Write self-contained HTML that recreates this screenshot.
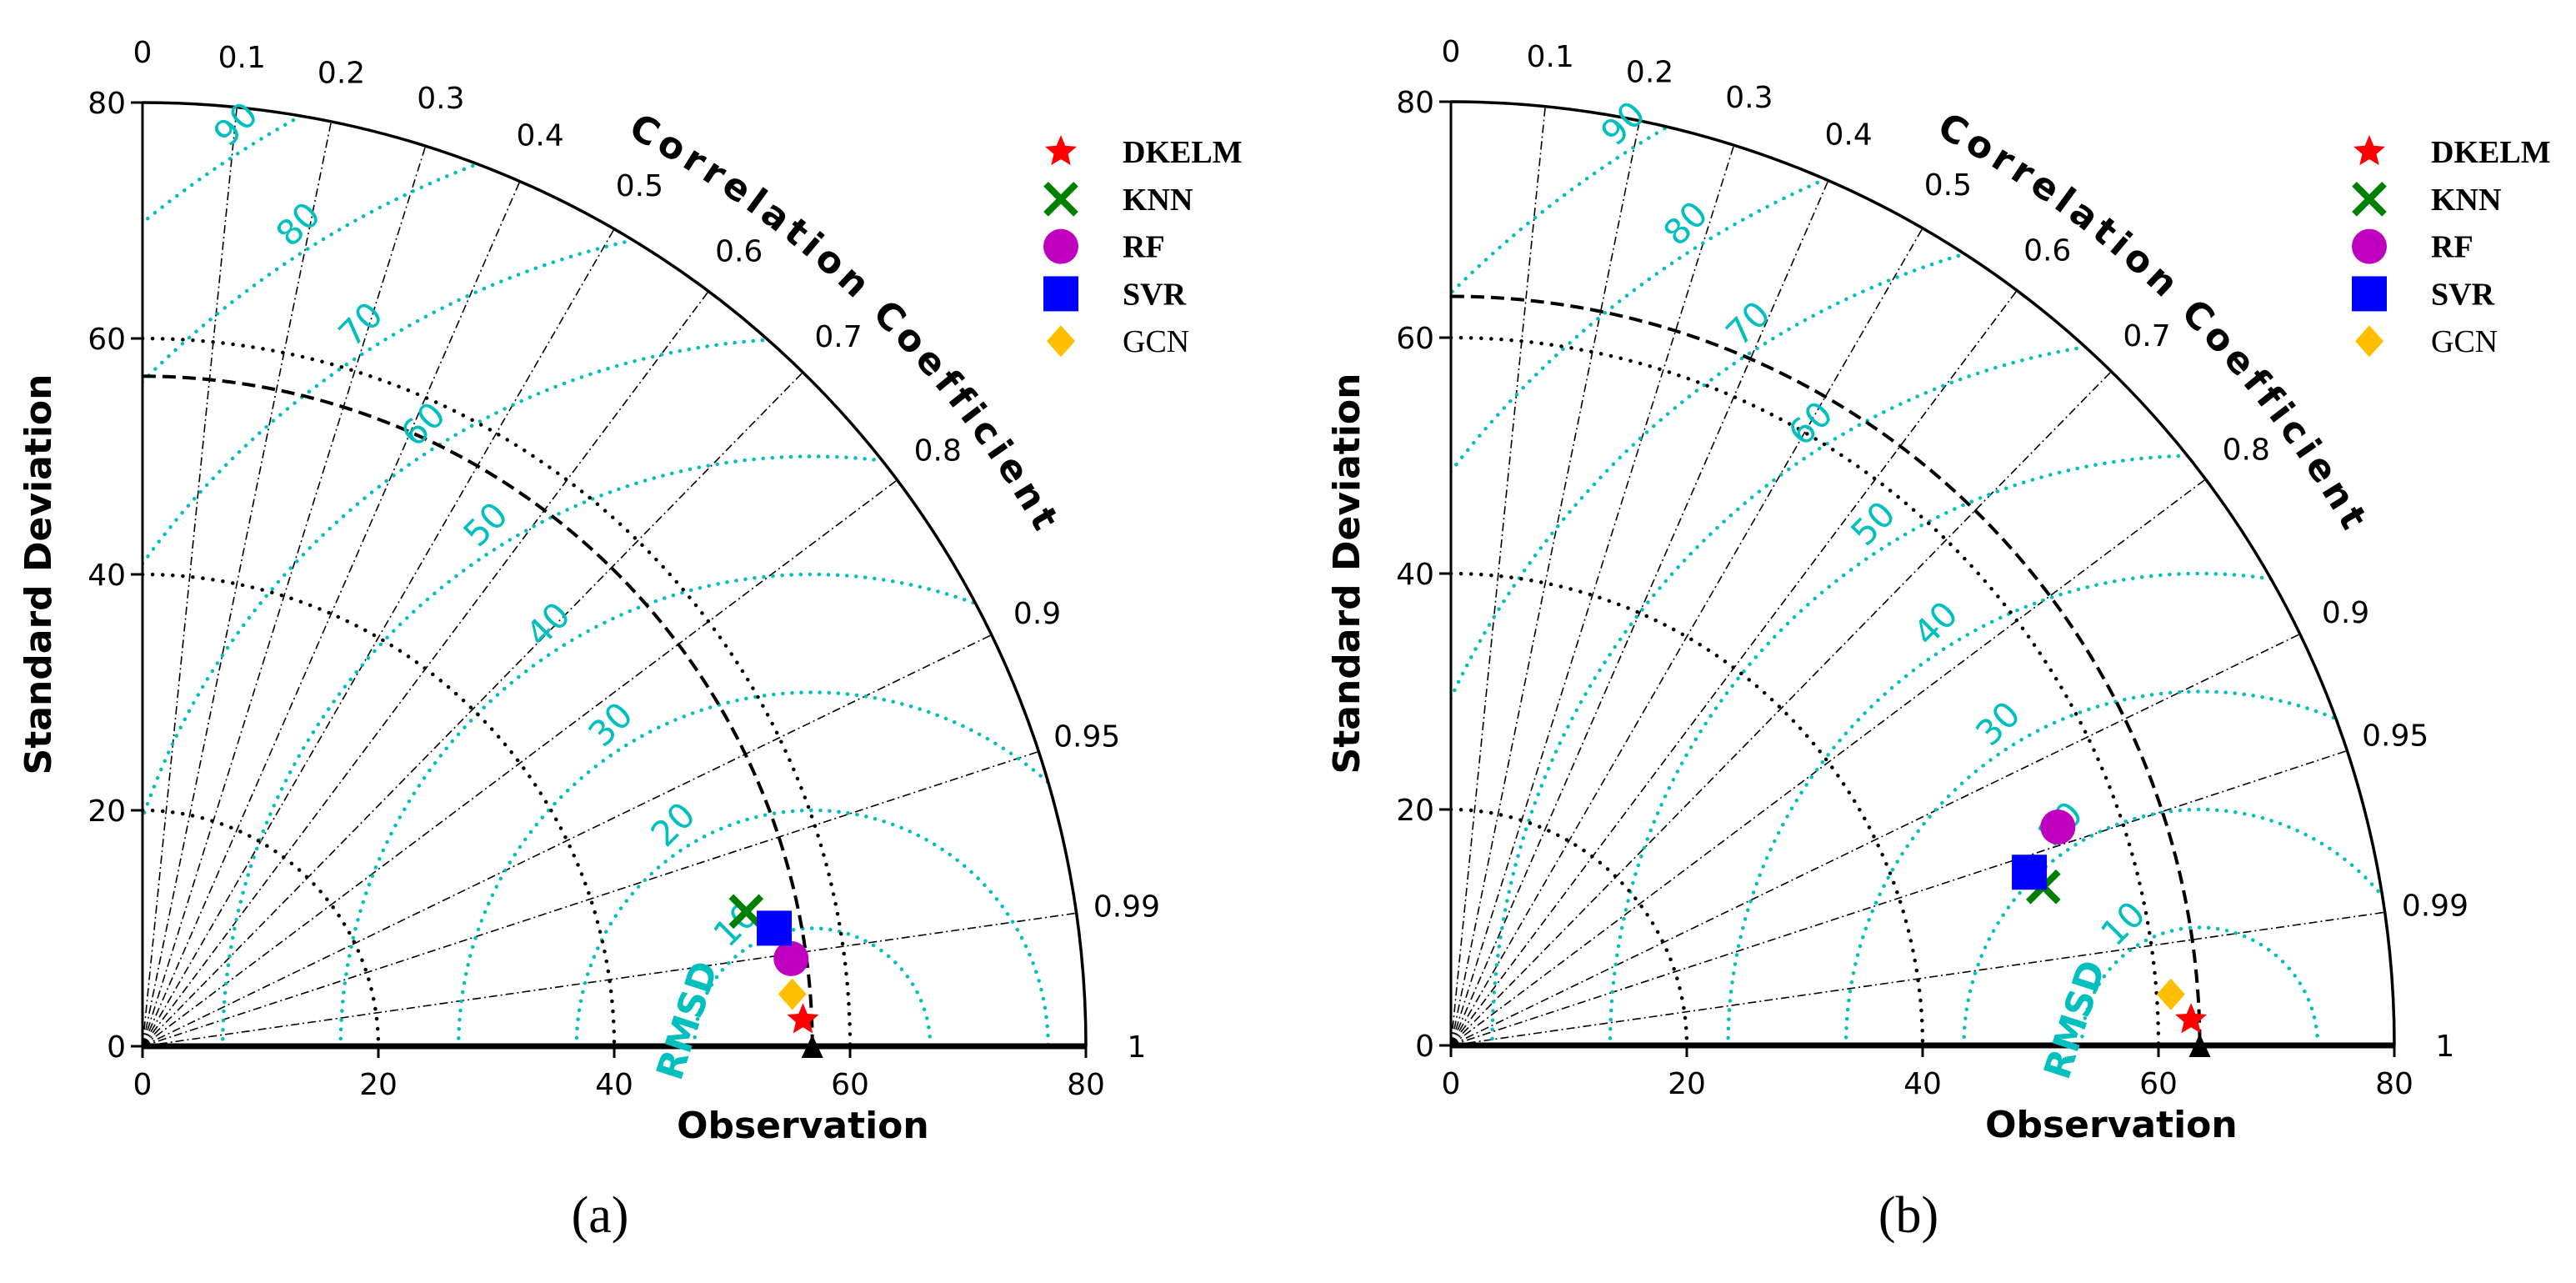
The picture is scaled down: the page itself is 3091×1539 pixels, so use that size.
<!DOCTYPE html>
<html><head><meta charset="utf-8"><style>
html,body{margin:0;padding:0;background:#fff;overflow:hidden;width:3091px;height:1539px;}
svg{display:block;}
</style></head><body>
<svg id="chart" width="3091" height="1539" viewBox="0 0 3091 1539" xmlns="http://www.w3.org/2000/svg" style="font-family:'DejaVu Sans','Liberation Sans',sans-serif;">
<defs>
<clipPath id="quadA"><path d="M171,1255 L171,123 A1132,1132 0 0 1 1303,1255 Z"/></clipPath>
<clipPath id="quadB"><path d="M1741,1254 L1741,122 A1132,1132 0 0 1 2873,1254 Z"/></clipPath>
</defs>
</svg>
<script>
// ---- data ----
const models = ['DKELM','KNN','RF','SVR','GCN'];
const stdA = [56.05, 52.45, 55.5, 54.5, 55.28];
const corrA = [0.9992, 0.976, 0.991, 0.983, 0.9968];
const refStdA = 56.8;
const stdB = [62.8, 52.0, 54.7, 51.2, 61.2];
const corrB = [0.9994, 0.966, 0.941, 0.958, 0.9975];
const refStdB = 63.5;
const corrTicks = [0,0.1,0.2,0.3,0.4,0.5,0.6,0.7,0.8,0.9,0.95,0.99,1];
const corrTickLabels = ['0','0.1','0.2','0.3','0.4','0.5','0.6','0.7','0.8','0.9','0.95','0.99','1'];
const stdTicks = [0,20,40,60,80];
const stdArcs = [20,40,60];
const rmsdLevels = [10,20,30,40,50,60,70,80,90];
const colors = ['#ff0000','#008000','#bf00bf','#0000ff','#ffbf00'];

const NS='http://www.w3.org/2000/svg';
const svg=document.getElementById('chart');
const SERIF='"Liberation Serif",serif';
function mk(tag,attrs,parent){const e=document.createElementNS(NS,tag);for(const k in attrs)e.setAttribute(k,attrs[k]);(parent||svg).appendChild(e);return e;}

function drawPanel(id,ox,oy,refStd,stds,corrs,clip,letter,capX){
  const S=1132/80;
  const X=v=>ox+v*S, Y=v=>oy-v*S;
  const P=(r,th)=>[ox+r*S*Math.cos(th), oy-r*S*Math.sin(th)];
  const g=mk('g',{});
  
  
  const cg=mk('g',{'clip-path':'url(#'+clip+')'},g);
  corrTicks.forEach((c,i)=>{
    if(c===0||c===1)return;
    const th=Math.acos(c);const p=P(80,th);
    const l=mk('line',{x1:ox,y1:oy,x2:p[0],y2:p[1],stroke:'#000','stroke-width':1.6,'stroke-dasharray':'10,4,2,4'},cg);
    
    
  });
  rmsdLevels.forEach(r=>{
    const c=mk('circle',{cx:X(refStd),cy:oy,r:r*S,fill:'none',stroke:'#00bfbf','stroke-width':4.5,'stroke-dasharray':'0.1,11','stroke-linecap':'round'},cg);
    
    
  });
  stdArcs.forEach(r=>{
    const a=mk('path',{d:`M${ox},${Y(r)} A${r*S},${r*S} 0 0 1 ${X(r)},${oy}`,fill:'none',stroke:'#000','stroke-width':4.5,'stroke-dasharray':'0.1,12','stroke-linecap':'round'},g);
    
    
  });
  const ra=mk('path',{d:`M${ox},${Y(refStd)} A${refStd*S},${refStd*S} 0 0 1 ${X(refStd)},${oy}`,fill:'none',stroke:'#000','stroke-width':4,'stroke-dasharray':'16,8'},g);
  
  
  const oa=mk('path',{d:`M${ox},${Y(80)} A${80*S},${80*S} 0 0 1 ${X(80)},${oy}`,fill:'none',stroke:'#000','stroke-width':3.5},g);
  
  
  const ya=mk('line',{x1:ox,y1:oy,x2:ox,y2:Y(80),stroke:'#000','stroke-width':3},g);
  
  
  const xa=mk('line',{x1:ox,y1:oy,x2:X(80),y2:oy,stroke:'#000','stroke-width':7},g);
  
  
  stdTicks.forEach(t=>{
    mk('line',{x1:X(t),y1:oy,x2:X(t),y2:oy+14,stroke:'#000','stroke-width':3},g);
    mk('line',{x1:ox-14,y1:Y(t),x2:ox,y2:Y(t),stroke:'#000','stroke-width':3},g);
    const xl=mk('text',{x:X(t),y:oy+58,'font-size':36,'text-anchor':'middle'},g);xl.textContent=t;
    
    
    const yl=mk('text',{x:ox-20,y:Y(t)+13,'font-size':36,'text-anchor':'end'},g);yl.textContent=t;
    
    
  });
  corrTicks.forEach((c,i)=>{
    const p=P(84.3,Math.acos(c));
    const t=mk('text',{x:p[0],y:p[1]+13,'font-size':36,'text-anchor':'middle'},g);
    t.textContent=corrTickLabels[i];
    
    
  });
  const a1=62*Math.PI/180,a2=22*Math.PI/180,R=87.5;
  const p1=P(R,a1),p2=P(R,a2);
  const pid='cpath'+id;
  mk('path',{id:pid,d:`M${p1[0]},${p1[1]} A${R*S},${R*S} 0 0 1 ${p2[0]},${p2[1]}`,fill:'none'},g);
  const ct=mk('text',{'font-size':44,'font-weight':'bold','letter-spacing':6},g);
  
  
  const tp=mk('textPath',{href:'#'+pid},ct);tp.textContent='Correlation Coefficient';
  rmsdLevels.forEach(r=>{
    const th=122*Math.PI/180;const rr=r+2;
    const x=X(refStd+rr*Math.cos(th)),y=oy-rr*Math.sin(th)*S;
    if(Math.hypot(x-ox,y-oy)>80*S)return;
    const t=mk('text',{x:x,y:y,'font-size':42,fill:'#00bfbf','text-anchor':'middle','dominant-baseline':'middle',transform:`rotate(-45 ${x} ${y})`},g);
    t.textContent=r;
    
    
  });
  const rx=X(refStd-10.4),ry=oy-30;
  const rt=mk('text',{x:rx,y:ry,'font-size':44,'font-weight':'bold',fill:'#00bfbf','text-anchor':'middle','dominant-baseline':'middle',transform:`rotate(-72 ${rx} ${ry})`},g);
  rt.textContent='RMSD';
  
  
  const rxp=X(refStd);
  const tri=mk('path',{d:`M${rxp-13},${oy+14} L${rxp+13},${oy+14} L${rxp},${oy-14} Z`,fill:'#000'},g);
  
  
  models.forEach((m,i)=>{
    const th=Math.acos(corrs[i]);const p=P(stds[i],th);
    const e=marker(g,i,p[0],p[1]);
    
    
  });
  const xt=mk('text',{x:X(56),y:oy+110,'font-size':44,'font-weight':'bold','text-anchor':'middle'},g);
  xt.textContent='Observation';
  
  
  const yx=ox-110,yy=Y(40);
  const yt=mk('text',{x:yx,y:yy,'font-size':44,'font-weight':'bold','text-anchor':'middle',transform:`rotate(-90 ${yx} ${yy})`},g);
  yt.textContent='Standard Deviation';
  
  
  const cap=mk('text',{x:capX,y:1478,'font-size':62,'text-anchor':'middle',style:'font-family:'+SERIF},g);
  cap.textContent='('+letter+')';
  
  
  models.forEach((m,i)=>{
    const y=182+i*56.8;
    const e=marker(g,i,ox+1102,y);
    
    
    const t=mk('text',{x:ox+1176,y:y+13,'font-size':38,style:'font-family:'+SERIF+';font-weight:'+(i<4?'bold':'normal')},g);
    t.textContent=m;
    
    
  });
}
function marker(g,i,x,y){
  const c=colors[i];
  if(i===0){let d='';for(let k=0;k<10;k++){const r=k%2?9:20,a=-Math.PI/2+k*Math.PI/5;d+=(k?'L':'M')+(x+r*Math.cos(a))+','+(y+r*Math.sin(a));}return mk('path',{d:d+'Z',fill:c},g);}
  if(i===1){return mk('path',{d:`M${x-18},${y-18}L${x+18},${y+18}M${x-18},${y+18}L${x+18},${y-18}`,stroke:c,'stroke-width':8},g);}
  if(i===2)return mk('circle',{cx:x,cy:y,r:21,fill:c},g);
  if(i===3)return mk('rect',{x:x-21,y:y-21,width:42,height:42,fill:c},g);
  return mk('path',{d:`M${x},${y-19}L${x+17},${y}L${x},${y+19}L${x-17},${y}Z`,fill:c},g);
}
drawPanel('a',171,1255,refStdA,stdA,corrA,'quadA','a',720);
drawPanel('b',1741,1254,refStdB,stdB,corrB,'quadB','b',2290);
</script>
</body></html>
